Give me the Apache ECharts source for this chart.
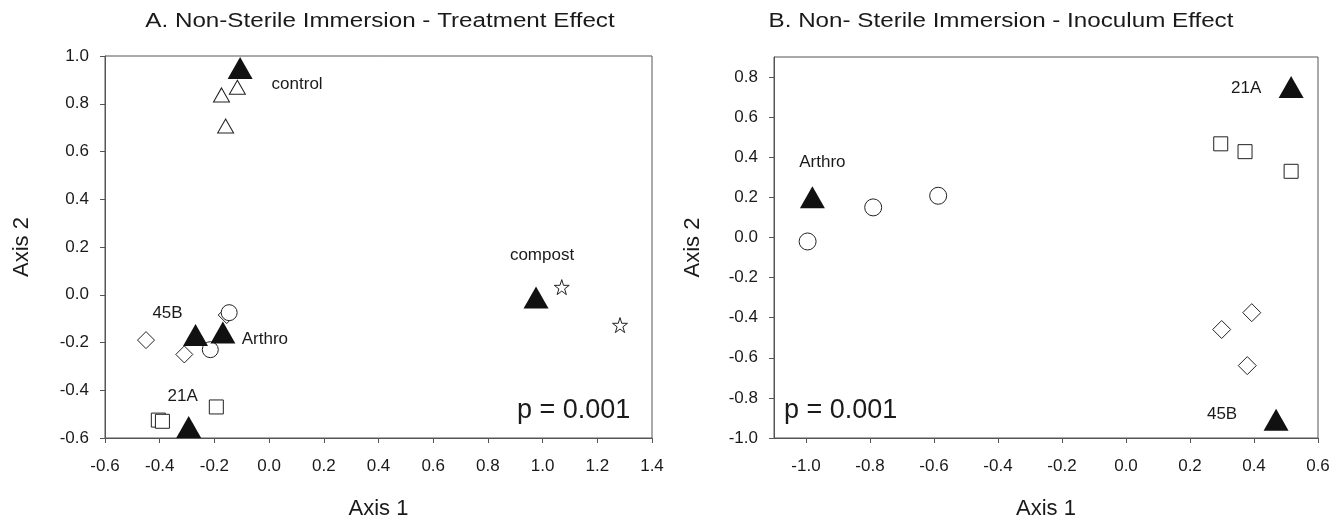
<!DOCTYPE html>
<html>
<head>
<meta charset="utf-8">
<script src="https://cdn.jsdelivr.net/npm/echarts@6/dist/echarts.min.js"></script>
<style>html,body{margin:0;padding:0;background:#fff;}#c{width:1334px;height:525px;}</style>
</head>
<body>
<div id="c"></div>
<script>
// ---- Panel A: Non-Sterile Immersion - Treatment Effect ----
const aCentroids = [
  ['control', -0.106, 0.95],
  ['compost', 0.976, -0.012],
  ['45B', -0.269, -0.169],
  ['Arthro', -0.169, -0.158],
  ['21A', -0.294, -0.554]
];
const aControl = [[-0.116, 0.869], [-0.174, 0.837], [-0.159, 0.707]];
const aCompost = [[1.07, 0.032], [1.283, -0.127]];
const a45B = [[-0.45, -0.19], [-0.31, -0.25], [-0.155, -0.085]];
const aArthro = [[-0.146, -0.075], [-0.215, -0.23]];
const a21A = [[-0.405, -0.525], [-0.39, -0.53], [-0.193, -0.47]];
const aXTicks = [-0.6, -0.4, -0.2, 0.0, 0.2, 0.4, 0.6, 0.8, 1.0, 1.2, 1.4];
const aYTicks = [-0.6, -0.4, -0.2, 0.0, 0.2, 0.4, 0.6, 0.8, 1.0];

// ---- Panel B: Non- Sterile Immersion - Inoculum Effect ----
const bCentroids = [
  ['Arthro', -0.98, 0.2],
  ['21A', 0.516, 0.75],
  ['45B', 0.469, -0.909]
];
const bArthro = [[-0.995, -0.02], [-0.79, 0.15], [-0.587, 0.208]];
const b21A = [[0.296, 0.467], [0.372, 0.428], [0.516, 0.33]];
const b45B = [[0.393, -0.375], [0.299, -0.459], [0.379, -0.639]];
const bXTicks = [-1.0, -0.8, -0.6, -0.4, -0.2, 0.0, 0.2, 0.4, 0.6];
const bYTicks = [-1.0, -0.8, -0.6, -0.4, -0.2, 0.0, 0.2, 0.4, 0.6, 0.8];

const titleA = 'A. Non-Sterile Immersion - Treatment Effect';
const titleB = 'B. Non- Sterile Immersion - Inoculum Effect';
const pText = 'p = 0.001';
const axisXName = 'Axis 1';
const axisYName = 'Axis 2';

const FONT = '"Liberation Sans", Arial, sans-serif';
const TXT = '#1a1a1a';
const AXC = '#555';
const STAR = 'path://M50,0 L61.2,34.5 L97.6,34.5 L68.2,55.9 L79.4,90.5 L50,69.1 L20.6,90.5 L31.8,55.9 L2.4,34.5 L38.8,34.5 Z';
const TRI = [25, 22];

// label centre offsets (px) from the centroid symbol centre
const aLabelOff = {'control': [57, 16], 'compost': [6, -42], '45B': [-28, -22], 'Arthro': [42, 7], '21A': [-6, -31]};
const bLabelOff = {'Arthro': [10, -35], '21A': [-45, 1], '45B': [-54, -5]};

function xAxis(grid, min, max, ticks) {
  return {
    type: 'value', gridIndex: grid, min: min, max: max,
    name: axisXName, nameLocation: 'middle', nameGap: 60,
    nameTextStyle: {fontFamily: FONT, fontSize: 22, color: TXT},
    axisLine: {show: true, onZero: false, lineStyle: {color: AXC, width: 1}},
    axisTick: {show: true, inside: false, length: 5, customValues: ticks, lineStyle: {color: AXC}},
    axisLabel: {customValues: ticks, formatter: v => v.toFixed(1), fontFamily: FONT, fontSize: 17, color: TXT, margin: 20},
    splitLine: {show: false}
  };
}
function yAxis(grid, min, max, ticks, gap) {
  return {
    type: 'value', gridIndex: grid, min: min, max: max,
    name: axisYName, nameLocation: 'middle', nameGap: gap, nameRotate: 90,
    nameTextStyle: {fontFamily: FONT, fontSize: 22, color: TXT},
    axisLine: {show: true, onZero: false, lineStyle: {color: AXC, width: 1}},
    axisTick: {show: true, inside: false, length: 5, customValues: ticks, lineStyle: {color: AXC}},
    axisLabel: {customValues: ticks, formatter: v => v.toFixed(1), fontFamily: FONT, fontSize: 17, color: TXT, margin: 16},
    splitLine: {show: false}
  };
}
function openSeries(idx, data, symbol, size) {
  return {
    type: 'scatter', xAxisIndex: idx, yAxisIndex: idx, data: data,
    symbol: symbol, symbolSize: size, silent: true,
    itemStyle: {color: '#fff', borderColor: '#222', borderWidth: 1, opacity: 1}
  };
}
function centroidSeries(idx, list, off) {
  return {
    type: 'scatter', xAxisIndex: idx, yAxisIndex: idx, z: 5,
    symbol: 'triangle', symbolSize: TRI, silent: true,
    itemStyle: {color: '#111', borderWidth: 0, opacity: 1},
    data: list.map(c => ({
      name: c[0], value: [c[1], c[2]],
      label: {
        show: true, formatter: '{b}', fontFamily: FONT, fontSize: 17, color: TXT,
        position: [TRI[0] / 2 + off[c[0]][0], TRI[1] / 2 + off[c[0]][1]],
        align: 'center', verticalAlign: 'middle'
      }
    }))
  };
}

const chart = echarts.init(document.getElementById('c'), null, {renderer: 'canvas'});
chart.setOption({
  animation: false,
  backgroundColor: '#fff',
  grid: [
    {left: 105, top: 56, width: 547, height: 384, show: true, borderColor: AXC, borderWidth: 1, backgroundColor: 'transparent'},
    {left: 774, top: 57, width: 544, height: 383, show: true, borderColor: AXC, borderWidth: 1, backgroundColor: 'transparent'}
  ],
  xAxis: [xAxis(0, -0.6, 1.4, aXTicks), xAxis(1, -1.1, 0.6, bXTicks)],
  yAxis: [yAxis(0, -0.6, 1.0, aYTicks, 72), yAxis(1, -1.0, 0.9, bYTicks, 70)],
  graphic: [
    {type: 'text', x: 380, y: 21, scaleX: 1.21, style: {text: titleA, fontFamily: FONT, fontSize: 20, fill: TXT, align: 'center', verticalAlign: 'middle'}},
    {type: 'text', x: 1001, y: 21, scaleX: 1.21, style: {text: titleB, fontFamily: FONT, fontSize: 20, fill: TXT, align: 'center', verticalAlign: 'middle'}},
    {type: 'text', x: 517, y: 411, style: {text: pText, fontFamily: FONT, fontSize: 27, fill: TXT, verticalAlign: 'middle'}},
    {type: 'text', x: 784, y: 411, style: {text: pText, fontFamily: FONT, fontSize: 27, fill: TXT, verticalAlign: 'middle'}}
  ],
  series: [
    openSeries(0, aControl, 'triangle', [16, 14]),
    openSeries(0, aCompost, STAR, 15),
    openSeries(0, a45B, 'diamond', 17),
    openSeries(0, aArthro, 'circle', 16),
    openSeries(0, a21A, 'rect', 14),
    centroidSeries(0, aCentroids, aLabelOff),
    openSeries(1, bArthro, 'circle', 17),
    openSeries(1, b21A, 'rect', 14),
    openSeries(1, b45B, 'diamond', 18),
    centroidSeries(1, bCentroids, bLabelOff)
  ]
});
</script>
</body>
</html>
